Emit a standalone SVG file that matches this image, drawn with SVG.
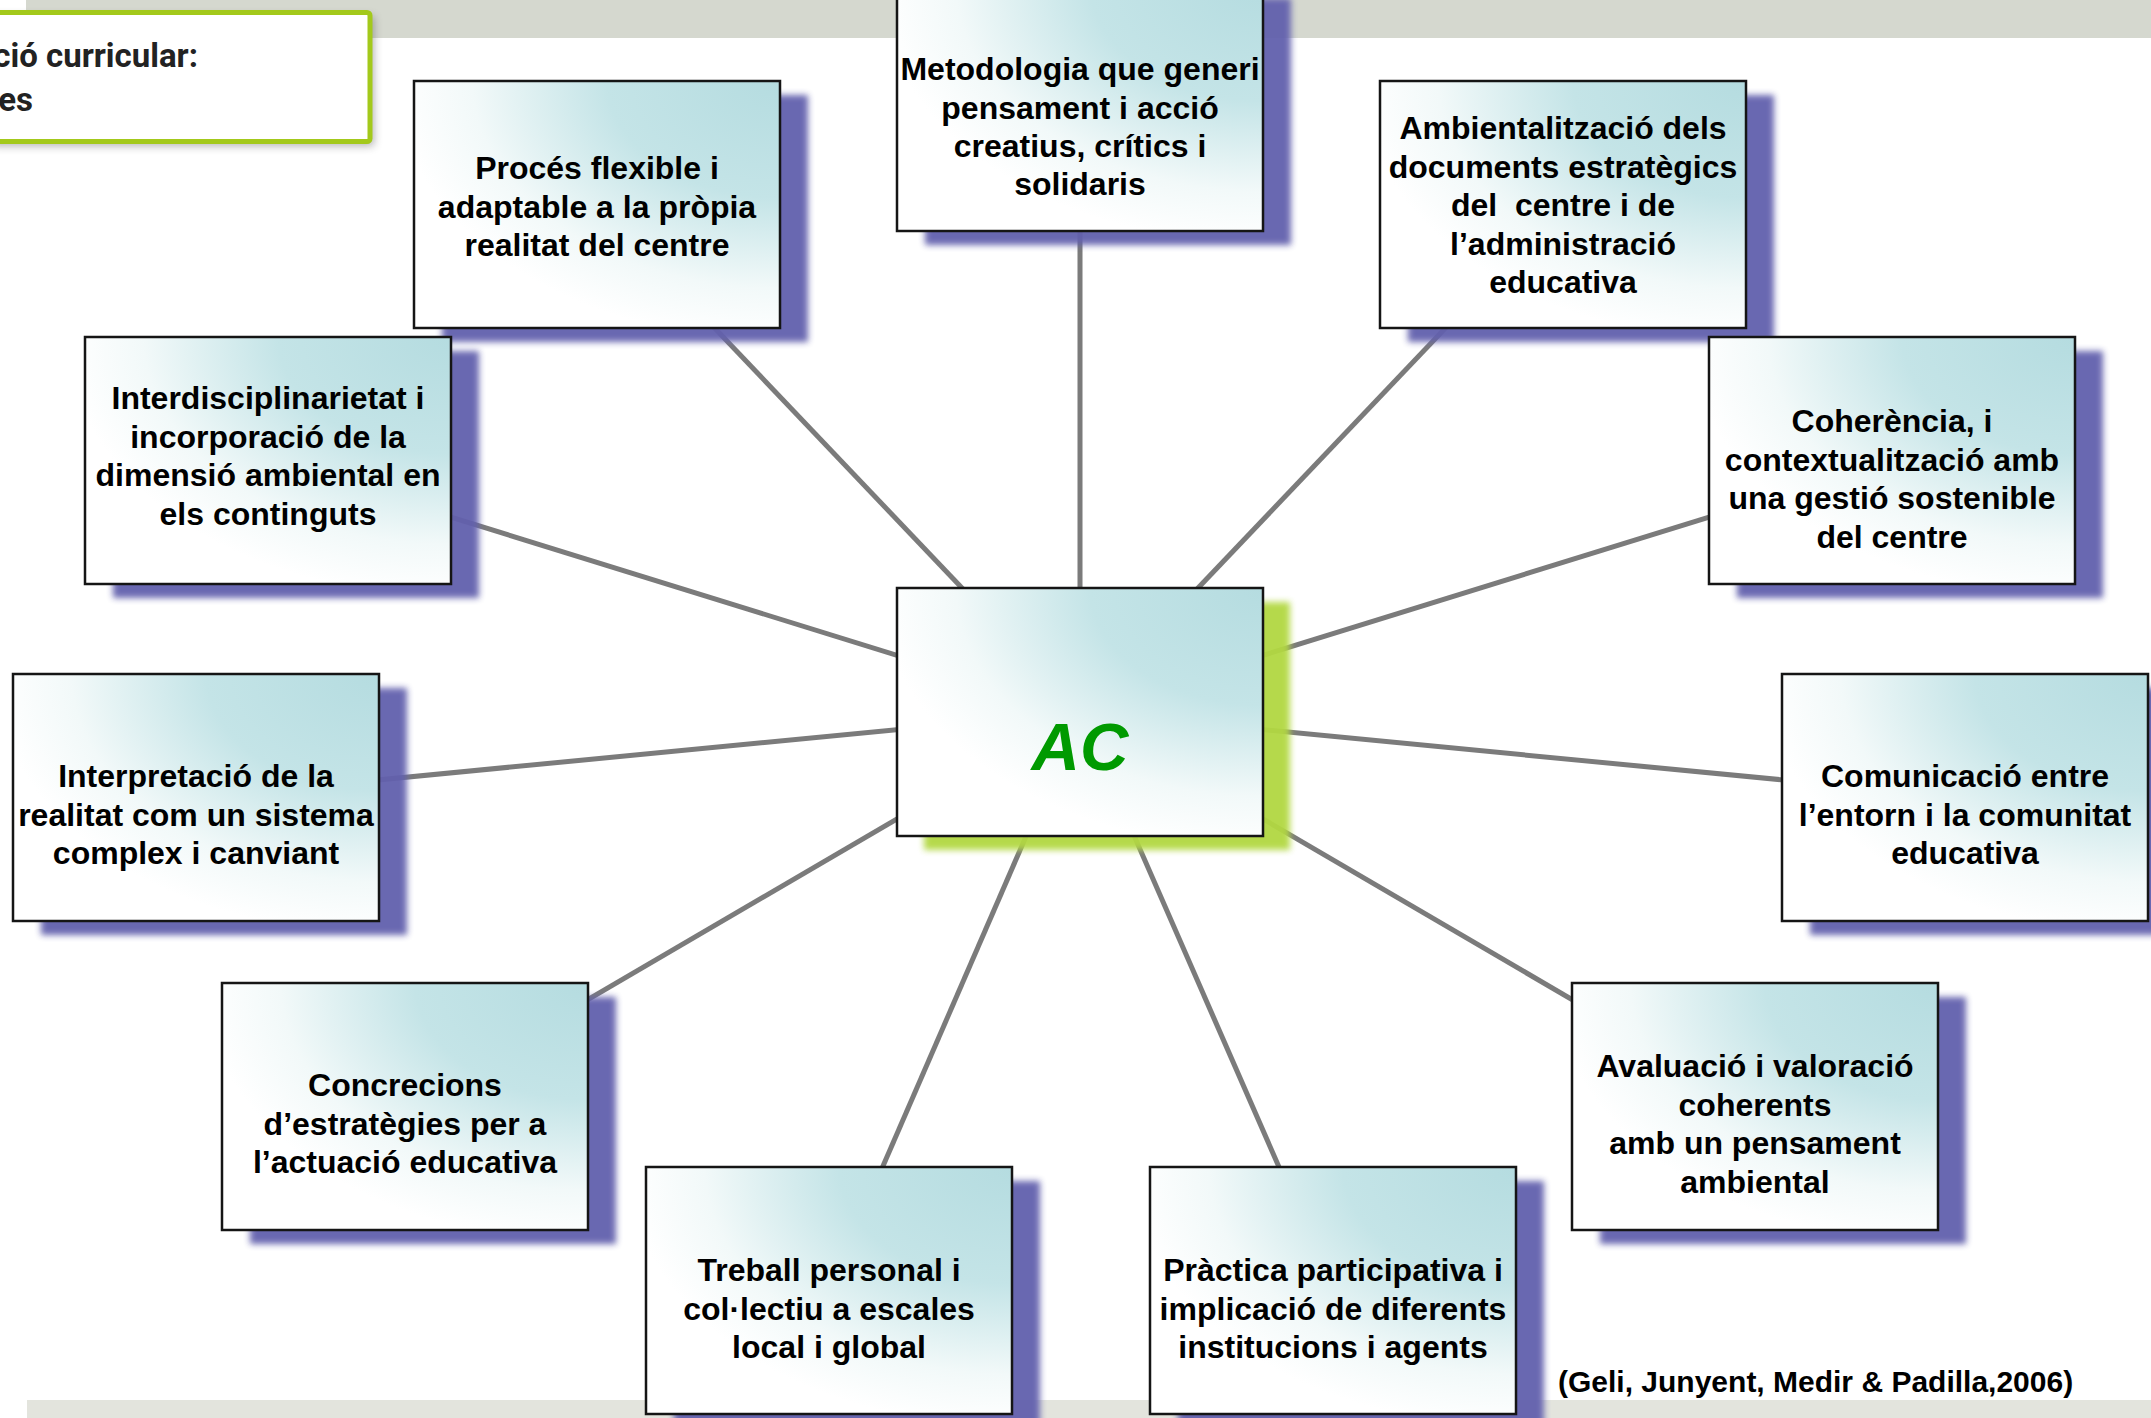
<svg xmlns="http://www.w3.org/2000/svg" width="2151" height="1418" viewBox="0 0 2151 1418">
<defs>
<radialGradient id="boxfill" cx="1" cy="0" r="1.05" fx="1" fy="0">
<stop offset="0" stop-color="#b5dce0"/>
<stop offset="0.45" stop-color="#c4e4e7"/>
<stop offset="0.8" stop-color="#f2f9f9"/>
<stop offset="1" stop-color="#ffffff"/>
</radialGradient>
<filter id="soft" x="-10%" y="-10%" width="120%" height="120%">
<feGaussianBlur stdDeviation="3"/>
</filter>
<filter id="soft2" x="-10%" y="-20%" width="120%" height="140%">
<feGaussianBlur stdDeviation="4"/>
</filter>
</defs>
<style>
.box{fill:url(#boxfill);stroke:#151515;stroke-width:2.5}
.sh{fill:#6260ad;opacity:0.95;filter:url(#soft)}
.shg{fill:#b2d843;opacity:0.95;filter:url(#soft)}
.t{font-family:"Liberation Sans",Arial,sans-serif;font-weight:bold;font-size:32px;fill:#000;text-anchor:middle}
.conn{stroke:#7b7b7b;stroke-width:5;fill:none}
</style>
<rect width="2151" height="1418" fill="#ffffff"/>
<rect x="26" y="0" width="2125" height="38" fill="#d5d8cf"/>
<rect x="27" y="1400" width="2124" height="18" fill="#e3e4dd"/>

<g id="header">
<rect x="-8" y="16" width="382" height="130" rx="3" fill="#555" opacity="0.45" filter="url(#soft2)"/>
<rect x="-10" y="12.5" width="380" height="129" rx="3" fill="#ffffff" stroke="#a3c91b" stroke-width="5"/>
<text x="198" y="67" text-anchor="end" font-family="Roboto,'Liberation Sans',sans-serif" font-weight="bold" font-size="33" fill="#222222">ció curricular:</text>
<text x="33" y="111" text-anchor="end" font-family="Roboto,'Liberation Sans',sans-serif" font-weight="bold" font-size="33" fill="#222222">es</text>
</g>

<g id="connectors">
<line class="conn" x1="1080" y1="712" x2="1080" y2="107"/>
<line class="conn" x1="1080" y1="712" x2="597" y2="204.5"/>
<line class="conn" x1="1080" y1="712" x2="1563" y2="204.5"/>
<line class="conn" x1="1080" y1="712" x2="268" y2="460.5"/>
<line class="conn" x1="1080" y1="712" x2="1892" y2="460.5"/>
<line class="conn" x1="1080" y1="712" x2="196" y2="797.5"/>
<line class="conn" x1="1080" y1="712" x2="1965" y2="797.5"/>
<line class="conn" x1="1080" y1="712" x2="405" y2="1106.5"/>
<line class="conn" x1="1080" y1="712" x2="1755" y2="1106.5"/>
<line class="conn" x1="1080" y1="712" x2="829" y2="1290.5"/>
<line class="conn" x1="1080" y1="712" x2="1333" y2="1290.5"/>
</g>

<g id="n-metodologia">
<rect class="sh" x="925" y="-2" width="366" height="247"/>
<rect class="box" x="897" y="-16" width="366" height="247"/>
<text class="t"><tspan x="1080" y="80">Metodologia que generi</tspan><tspan x="1080" y="118.5">pensament i acció</tspan><tspan x="1080" y="157">creatius, crítics i</tspan><tspan x="1080" y="195">solidaris</tspan></text>
</g>

<g id="n-proces">
<rect class="sh" x="442" y="95" width="366" height="247"/>
<rect class="box" x="414" y="81" width="366" height="247"/>
<text class="t"><tspan x="597" y="179">Procés flexible i</tspan><tspan x="597" y="217.5">adaptable a la pròpia</tspan><tspan x="597" y="256">realitat del centre</tspan></text>
</g>

<g id="n-ambientalitzacio">
<rect class="sh" x="1408" y="95" width="366" height="247"/>
<rect class="box" x="1380" y="81" width="366" height="247"/>
<text class="t" xml:space="preserve"><tspan x="1563" y="139">Ambientalització dels</tspan><tspan x="1563" y="177.5">documents estratègics</tspan><tspan x="1563" y="216">del  centre i de</tspan><tspan x="1563" y="254.5">l’administració</tspan><tspan x="1563" y="293">educativa</tspan></text>
</g>

<g id="n-interdisciplinarietat">
<rect class="sh" x="113" y="351" width="366" height="247"/>
<rect class="box" x="85" y="337" width="366" height="247"/>
<text class="t"><tspan x="268" y="409">Interdisciplinarietat i</tspan><tspan x="268" y="447.5">incorporació de la</tspan><tspan x="268" y="486">dimensió ambiental en</tspan><tspan x="268" y="524.5">els continguts</tspan></text>
</g>

<g id="n-coherencia">
<rect class="sh" x="1737" y="351" width="366" height="247"/>
<rect class="box" x="1709" y="337" width="366" height="247"/>
<text class="t"><tspan x="1892" y="432">Coherència, i</tspan><tspan x="1892" y="470.5">contextualització amb</tspan><tspan x="1892" y="509">una gestió sostenible</tspan><tspan x="1892" y="547.5">del centre</tspan></text>
</g>

<g id="n-interpretacio">
<rect class="sh" x="41" y="688" width="366" height="247"/>
<rect class="box" x="13" y="674" width="366" height="247"/>
<text class="t"><tspan x="196" y="787">Interpretació de la</tspan><tspan x="196" y="825.5">realitat com un sistema</tspan><tspan x="196" y="864">complex i canviant</tspan></text>
</g>

<g id="n-comunicacio">
<rect class="sh" x="1810" y="688" width="366" height="247"/>
<rect class="box" x="1782" y="674" width="366" height="247"/>
<text class="t"><tspan x="1965" y="787">Comunicació entre</tspan><tspan x="1965" y="825.5">l’entorn i la comunitat</tspan><tspan x="1965" y="864">educativa</tspan></text>
</g>

<g id="n-ac">
<rect class="shg" x="924" y="602" width="366" height="248"/>
<rect class="box" x="897" y="588" width="366" height="248"/>
<text x="1080" y="770" text-anchor="middle" font-family="'Liberation Sans',Arial,sans-serif" font-weight="bold" font-style="italic" font-size="67" fill="#009a00">AC</text>
</g>

<g id="n-concrecions">
<rect class="sh" x="250" y="997" width="366" height="247"/>
<rect class="box" x="222" y="983" width="366" height="247"/>
<text class="t"><tspan x="405" y="1096">Concrecions</tspan><tspan x="405" y="1134.5">d’estratègies per a</tspan><tspan x="405" y="1173">l’actuació educativa</tspan></text>
</g>

<g id="n-avaluacio">
<rect class="sh" x="1600" y="997" width="366" height="247"/>
<rect class="box" x="1572" y="983" width="366" height="247"/>
<text class="t"><tspan x="1755" y="1077">Avaluació i valoració</tspan><tspan x="1755" y="1115.5">coherents</tspan><tspan x="1755" y="1154">amb un pensament</tspan><tspan x="1755" y="1192.5">ambiental</tspan></text>
</g>

<g id="n-treball">
<rect class="sh" x="674" y="1181" width="366" height="247"/>
<rect class="box" x="646" y="1167" width="366" height="247"/>
<text class="t"><tspan x="829" y="1281">Treball personal i</tspan><tspan x="829" y="1319.5">col·lectiu a escales</tspan><tspan x="829" y="1358">local i global</tspan></text>
</g>

<g id="n-practica">
<rect class="sh" x="1178" y="1181" width="366" height="247"/>
<rect class="box" x="1150" y="1167" width="366" height="247"/>
<text class="t"><tspan x="1333" y="1281">Pràctica participativa i</tspan><tspan x="1333" y="1319.5">implicació de diferents</tspan><tspan x="1333" y="1358">institucions i agents</tspan></text>
</g>

<text x="1558" y="1392" font-family="'Liberation Sans',Arial,sans-serif" font-weight="bold" font-size="30" fill="#000">(Geli, Junyent, Medir &amp; Padilla,2006)</text>
</svg>
